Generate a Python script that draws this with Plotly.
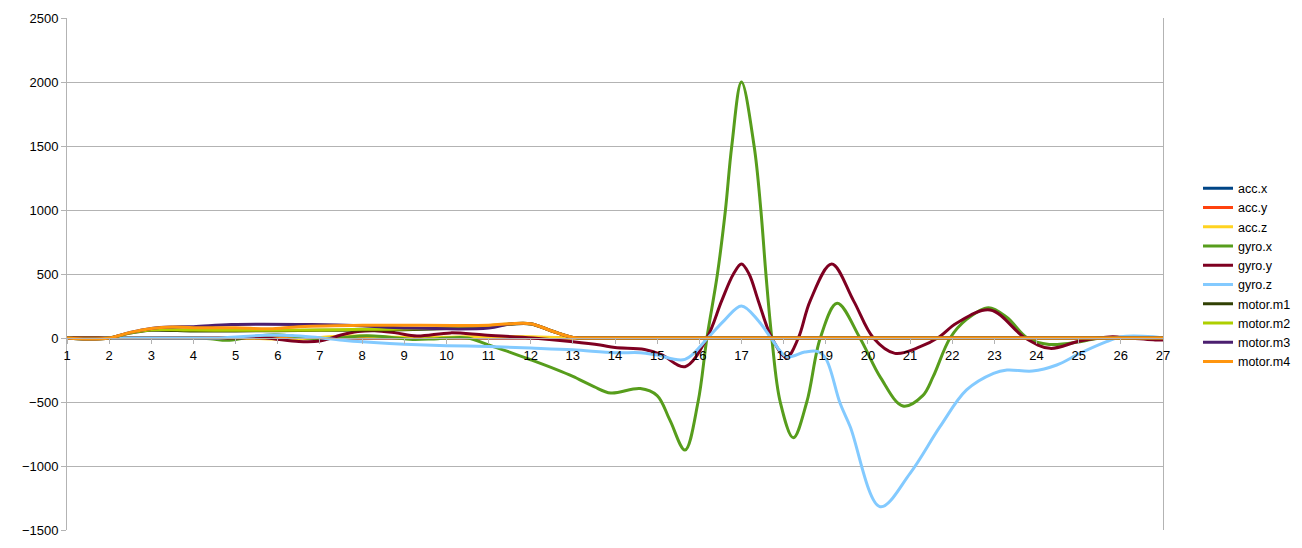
import plotly.graph_objects as go

# ---------------- data ----------------
ACCX_X = [1, 13, 27]
ACCX_Y = [0, 0, 0]
ACCY_X = [1, 13, 27]
ACCY_Y = [0, 0, 0]
ACCZ_X = [1, 5, 6.5, 7.5, 8, 9, 10, 10.5, 12, 13, 27]
ACCZ_Y = [0, 0, -8, 15, 15, 5, 5, 10, 10, 0, 0]

GYROX_X = [1, 2, 3, 4, 4.4, 4.8, 5.3, 5.9, 6.4, 6.9, 7.4, 8.1, 8.6, 9.2, 9.8, 10.5,
           11, 11.5, 12, 12.6, 13, 13.5, 13.9, 14.6, 15, 15.3, 15.66, 15.97, 16.18,
           16.43, 16.62, 16.77, 17, 17.3, 17.46, 17.58, 17.72, 17.92, 18.23, 18.55,
           18.87, 19.27, 19.81, 20.3, 20.83, 21.3, 21.55, 21.95, 22.34, 22.86, 23.3,
           23.78, 24.3, 25.03, 25.5, 26, 27]
GYROX_Y = [0, 0, 0, 0, -5, -18, 5, 25, 12, -5, 0, 18, 8, -12, -5, 0,
           -55, -110, -170, -245, -300, -380, -430, -395, -450, -640, -875, -500, 0,
           500, 1000, 1500, 2000, 1500, 1000, 500, 0, -500, -779, -500,
           0, 271, 0, -310, -531, -450, -300, 0, 145, 237, 160,
           0, -50, -29, 0, 0, 0]

GYROY_X = [1, 2, 3, 4, 5, 5.7, 6.5, 7, 7.5, 7.9, 8.3, 8.8, 9.3, 10.1, 10.9, 12.05,
           13, 13.65, 14, 14.7, 15.1, 15.66, 16.18, 16.53, 16.81, 17, 17.18, 17.4,
           17.72, 18.07, 18.35, 18.63, 19.14, 19.66, 20.13, 20.64, 21.24, 21.7, 22.1,
           22.9, 23.73, 24.32, 25.03, 25.8, 26.0, 26.85, 27]
GYROY_Y = [0, 0, 0, 0, 0, 0, -28, -24, 23, 50, 57, 40, 16, 40, 23, 0,
           -29, -55, -75, -90, -130, -224, 0, 290, 500, 578, 500, 290,
           0, -151, 0, 290, 578, 290, 0, -120, -68, 10, 115,
           219, 0, -81, -23, 10, 5, -16, -15]

GYROZ_X = [1, 1.5, 2, 3, 4, 4.6, 5.1, 5.9, 6.8, 7.6, 8, 9, 10, 11, 12, 13, 14, 14.6,
           15, 15.66, 16.2, 16.6, 17, 17.4, 17.7, 18.07, 18.5, 18.8, 19.0, 19.34,
           19.58, 20.29, 21.0, 21.71, 22.34, 22.98, 23.3, 23.9, 24.48, 25.03, 25.66,
           26.0, 26.77, 27]
GYROZ_Y = [0, -8, 0, 0, 0, 0, 10, 23, 8, -20, -30, -48, -60, -66, -78, -92, -115, -115,
           -133, -167, 0, 140, 250, 135, 0, -146, -110, -105, -160, -510,
           -693, -1318, -1057, -693, -406, -276, -250, -258, -211, -120, -29,
           10, 10, 0]

M1_X = [1, 1.5, 2, 2.5, 3, 4, 5, 6, 7, 8, 9, 10, 11, 11.5, 12, 12.5, 13, 13.5, 15, 27]
M1_Y = [0, -8, 0, 38, 60, 55, 55, 57, 60, 62, 65, 75, 90, 108, 110, 55, 5, 0, 0, 0]
M2_X = [1, 1.5, 2, 2.5, 3, 4, 5, 6, 7, 8, 9, 10, 11, 11.5, 12, 12.5, 13, 13.5, 15, 27]
M2_Y = [0, -8, 0, 40, 65, 62, 60, 60, 62, 68, 70, 80, 95, 110, 112, 55, 5, 0, 0, 0]
M3_X = [1, 1.5, 2, 2.5, 3, 3.5, 4, 4.9, 6.8, 8, 9, 11, 11.5, 12, 12.5, 13, 13.5, 15, 27]
M3_Y = [0, -8, 0, 44, 75, 86, 88, 105, 105, 95, 78, 78, 110, 112, 55, 5, 0, 0, 0]
M4_X = [1, 1.5, 2, 2.5, 3, 3.5, 4, 5, 5.8, 6.5, 8, 11, 11.5, 12, 12.5, 13, 13.5, 15, 27]
M4_Y = [0, -8, 0, 44, 75, 86, 80, 80, 72, 88, 100, 100, 112, 112, 55, 5, 0, 0, 0]

SERIES = [
    ("acc.x", ACCX_X, ACCX_Y, "#004586"),
    ("acc.y", ACCY_X, ACCY_Y, "#ff420e"),
    ("acc.z", ACCZ_X, ACCZ_Y, "#ffd320"),
    ("gyro.x", GYROX_X, GYROX_Y, "#579d1c"),
    ("gyro.y", GYROY_X, GYROY_Y, "#7e0021"),
    ("gyro.z", GYROZ_X, GYROZ_Y, "#83caff"),
    ("motor.m1", M1_X, M1_Y, "#314004"),
    ("motor.m2", M2_X, M2_Y, "#aecf00"),
    ("motor.m3", M3_X, M3_Y, "#4b1f6f"),
    ("motor.m4", M4_X, M4_Y, "#ff950e"),
]

X_TICKS = list(range(1, 28))
Y_TICKS = [-1500, -1000, -500, 0, 500, 1000, 1500, 2000, 2500]

# ---------------- figure ----------------
fig = go.Figure()
for name, xs, ys, color in SERIES:
    fig.add_trace(go.Scatter(
        x=xs, y=ys, name=name, mode="lines",
        line=dict(color=color, width=3, shape="spline", smoothing=1.0),
    ))

FONT = "Liberation Sans, Arial, sans-serif"
GRID = "#b3b3b3"

fig.update_layout(
    width=1302, height=548, autosize=False,
    margin=dict(l=67, r=139, t=18, b=18),
    paper_bgcolor="white", plot_bgcolor="white",
    font=dict(family=FONT, size=13, color="#000000"),
    showlegend=True,
    legend=dict(
        xref="container", yref="container",
        x=1198 / 1302, xanchor="left", y=1 - 275 / 548, yanchor="middle",
        font=dict(family=FONT, size=12.5, color="#000000"),
        bgcolor="rgba(0,0,0,0)", borderwidth=0,
    ),
    xaxis=dict(
        range=[1, 27], tickmode="array", tickvals=X_TICKS,
        ticktext=[str(v) for v in X_TICKS],
        showgrid=False, zeroline=False, automargin=False,
        showline=True, linecolor=GRID, linewidth=1,
        ticks="outside", ticklen=5, tickcolor=GRID, tickwidth=1,
        anchor="free", position=0.375,
        tickfont=dict(family=FONT, size=13, color="#000000"),
    ),
    yaxis=dict(
        range=[-1500, 2500], tickmode="array", tickvals=Y_TICKS,
        showgrid=True, gridcolor=GRID, gridwidth=1, zeroline=False,
        automargin=False,
        showline=True, linecolor=GRID, linewidth=1, mirror=True,
        ticks="outside", ticklen=5, tickcolor=GRID, tickwidth=1,
        tickfont=dict(family=FONT, size=13, color="#000000"),
    ),
)

POST = ("document.body.style.margin='0';"
        "document.body.style.padding='0';"
        "document.body.style.overflow='hidden';")

fig.write_html("out.html", post_script=POST,
               config={"responsive": False, "displayModeBar": False})
